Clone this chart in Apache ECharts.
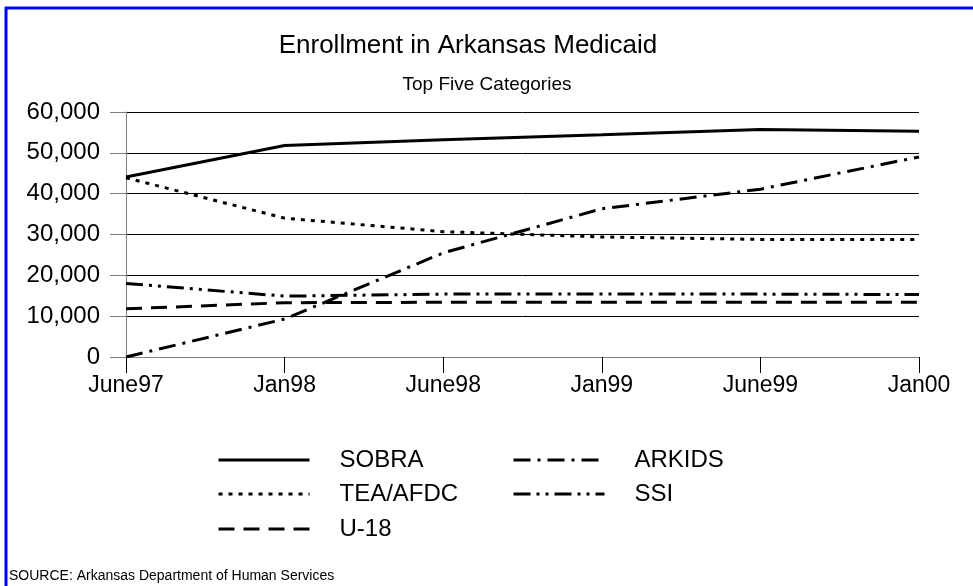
<!DOCTYPE html>
<html>
<head>
<meta charset="utf-8">
<script src="https://cdn.jsdelivr.net/npm/echarts@6/dist/echarts.min.js"></script>
<style>
  html, body { margin: 0; padding: 0; background: #fff; }
  #main { width: 973px; height: 586px; }
</style>
</head>
<body>
<div id="main"></div>
<script>
var categories = ['June97', 'Jan98', 'June98', 'Jan99', 'June99', 'Jan00'];
var sobra = [44100, 51800, 53200, 54400, 55700, 55300];
var teaAfdc = [43900, 34000, 30700, 29400, 28800, 28800];
var arkids = [0, 9300, 25500, 36300, 41100, 49000];
var ssi = [18000, 14900, 15400, 15400, 15400, 15300];
var u18 = [11800, 13300, 13400, 13400, 13400, 13400];

var font = 'Liberation Sans, Arial, sans-serif';

function legendAt(name, left, top) {
    return {
        data: [name],
        left: left,
        top: top,
        padding: 0,
        itemWidth: 91,
        itemHeight: 20,
        selectedMode: false,
        itemStyle: { opacity: 0 },
        lineStyle: { width: 3, color: '#000' },
        textStyle: {
            fontFamily: font,
            fontSize: 24,
            color: '#000',
            lineHeight: 20,
            padding: [0, 0, 0, 25]
        }
    };
}

function lineSeries(name, data, dash) {
    return {
        name: name,
        type: 'line',
        data: data,
        symbol: 'none',
        animation: false,
        color: '#000',
        itemStyle: { color: '#000' },
        lineStyle: { color: '#000', width: 3, type: dash, cap: 'butt' }
    };
}

var chart = echarts.init(document.getElementById('main'));
var option = {
    backgroundColor: '#fff',
    graphic: [
        { type: 'line', shape: { x1: 6, y1: 7, x2: 6, y2: 586 }, style: { stroke: '#0000ff', lineWidth: 3 } },
        { type: 'line', shape: { x1: 5, y1: 8, x2: 973, y2: 8 }, style: { stroke: '#0000ff', lineWidth: 3 } },
        { type: 'text', x: 468, y: 46, style: { text: 'Enrollment in Arkansas Medicaid', font: '26px ' + font, fill: '#000', textAlign: 'center', textVerticalAlign: 'middle' } },
        { type: 'text', x: 487, y: 85, style: { text: 'Top Five Categories', font: '19px ' + font, fill: '#000', textAlign: 'center', textVerticalAlign: 'middle' } },
        { type: 'text', x: 9, y: 576, style: { text: 'SOURCE: Arkansas Department of Human Services', font: '14px ' + font, fill: '#000', textAlign: 'left', textVerticalAlign: 'middle' } }
    ],
    legend: [
        legendAt('SOBRA', 217, 448),
        legendAt('ARKIDS', 512, 448),
        legendAt('TEA/AFDC', 217, 482),
        legendAt('SSI', 512, 482),
        legendAt('U-18', 217, 517)
    ],
    grid: { left: 126, right: 54, top: 112, bottom: 229 },
    xAxis: {
        type: 'category',
        data: categories,
        boundaryGap: false,
        axisLine: { lineStyle: { color: '#808080', width: 1 } },
        axisTick: { show: true, length: 16, lineStyle: { color: '#000' } },
        axisLabel: { fontFamily: font, fontSize: 23, color: '#000', margin: 17 }
    },
    yAxis: {
        type: 'value',
        min: 0,
        max: 60000,
        interval: 10000,
        axisLine: { show: true, lineStyle: { color: '#808080', width: 1 } },
        axisTick: { show: true, length: 16, lineStyle: { color: '#808080' } },
        splitLine: { lineStyle: { color: '#000', width: 1 } },
        axisLabel: {
            fontFamily: font, fontSize: 24, color: '#000', margin: 26,
            formatter: function (v) { return v.toLocaleString('en-US'); }
        }
    },
    series: [
        lineSeries('SOBRA', sobra, 'solid'),
        lineSeries('ARKIDS', arkids, [17, 7, 3, 7]),
        lineSeries('TEA/AFDC', teaAfdc, [4, 6]),
        lineSeries('SSI', ssi, [17, 6, 3, 6, 3, 6]),
        lineSeries('U-18', u18, [16, 9])
    ]
};
chart.setOption(option);
</script>
</body>
</html>
